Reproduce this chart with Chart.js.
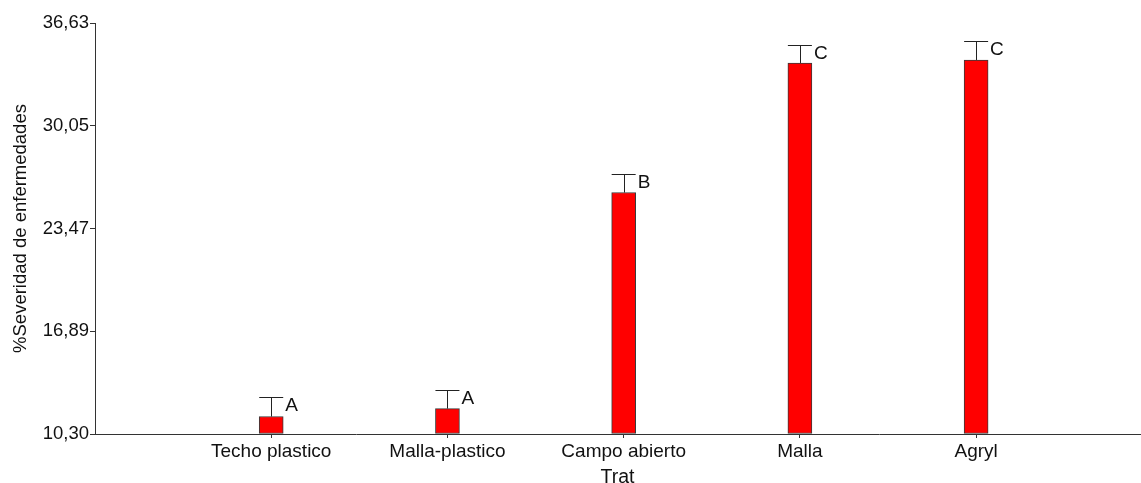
<!DOCTYPE html>
<html>
<head>
<meta charset="utf-8">
<script src="https://cdn.jsdelivr.net/npm/chart.js@4/dist/chart.umd.min.js"></script>
<style>
  html, body { margin: 0; padding: 0; background: #ffffff; }
  canvas { display: block; }
</style>
</head>
<body>
<canvas id="chart" width="1141" height="483"></canvas>
<script>
// Treatments and mean disease severity (%) with upper error limit and Tukey groups
const categories = ['Techo plastico', 'Malla-plastico', 'Campo abierto', 'Malla', 'Agryl'];
const severity   = [11.42, 11.93, 25.77, 34.07, 34.26];
const errorTop   = [12.68, 13.11, 26.97, 35.25, 35.48];
const groups     = ['A', 'A', 'B', 'C', 'C'];
const yTicks     = [10.30, 16.89, 23.47, 30.05, 36.63];

const FONT = 'Liberation Sans, Arial, sans-serif';
const INK = '#111111';
const AXIS = '#333333';

Chart.defaults.font.family = FONT;
Chart.defaults.font.size = 18.5;
Chart.defaults.color = INK;

// Error bars (upper whisker + cap) and group letters next to each cap
const errorBarPlugin = {
  id: 'errorBars',
  afterDatasetsDraw(chart) {
    const ctx = chart.ctx;
    const yScale = chart.scales.y;
    const meta = chart.getDatasetMeta(0);
    ctx.save();
    ctx.strokeStyle = '#222222';
    ctx.lineWidth = 1;
    ctx.fillStyle = INK;
    ctx.font = '19px ' + FONT;
    ctx.textBaseline = 'alphabetic';
    ctx.textAlign = 'left';
    meta.data.forEach((bar, i) => {
      const cx = Math.round(bar.x) + 0.5;
      const half = bar.width / 2;
      const yCap = Math.round(yScale.getPixelForValue(errorTop[i])) + 0.5;
      ctx.beginPath();
      ctx.moveTo(cx, bar.y);
      ctx.lineTo(cx, yCap);
      ctx.moveTo(bar.x - half, yCap);
      ctx.lineTo(bar.x + half, yCap);
      ctx.stroke();
      ctx.fillText(groups[i], bar.x + half + 2, yCap + 13.5);
    });
    ctx.restore();
  }
};

new Chart(document.getElementById('chart'), {
  type: 'bar',
  data: {
    datasets: [{
      data: severity.map((v, i) => ({ x: i + 1, y: v })),
      base: yTicks[0],
      backgroundColor: '#ff0000',
      borderColor: '#3a3a3a',
      borderWidth: 1,
      borderSkipped: false,
      barThickness: 24
    }]
  },
  options: {
    responsive: false,
    animation: false,
    layout: { padding: { left: 0, right: 1, top: 23, bottom: 0 } },
    plugins: {
      legend: { display: false },
      tooltip: { enabled: false }
    },
    scales: {
      x: {
        type: 'linear',
        offset: false,
        min: 0,
        max: 5.93,
        afterBuildTicks: (scale) => {
          scale.ticks = categories.map((c, i) => ({ value: i + 1 }));
        },
        afterFit: (scale) => { scale.height = 49; },
        grid: { offset: false, drawOnChartArea: false, drawTicks: true, tickLength: 4, color: AXIS },
        border: { color: AXIS, width: 1 },
        ticks: {
          padding: 2,
          maxRotation: 0,
          autoSkip: false,
          color: INK,
          font: { size: 19 },
          callback: (value) => categories[value - 1] || ''
        },
        title: {
          display: true,
          text: 'Trat',
          color: INK,
          padding: { top: 0, bottom: -2 },
          font: { size: 19.5, lineHeight: 0.8 }
        }
      },
      y: {
        min: yTicks[0],
        max: yTicks[yTicks.length - 1],
        afterBuildTicks: (scale) => {
          scale.ticks = yTicks.map(v => ({ value: v }));
        },
        afterFit: (scale) => { scale.width = 95; },
        grid: { drawOnChartArea: false, drawTicks: true, tickLength: 5, color: AXIS },
        border: { color: AXIS, width: 1 },
        ticks: {
          padding: 1,
          color: INK,
          font: { size: 18.5 },
          callback: (value) => Number(value).toFixed(2).replace('.', ',')
        },
        title: {
          display: true,
          text: '%Severidad de enfermedades',
          color: INK,
          padding: { top: 10, bottom: 0 },
          font: { size: 18.5 }
        }
      }
    }
  },
  plugins: [errorBarPlugin]
});
</script>
</body>
</html>
